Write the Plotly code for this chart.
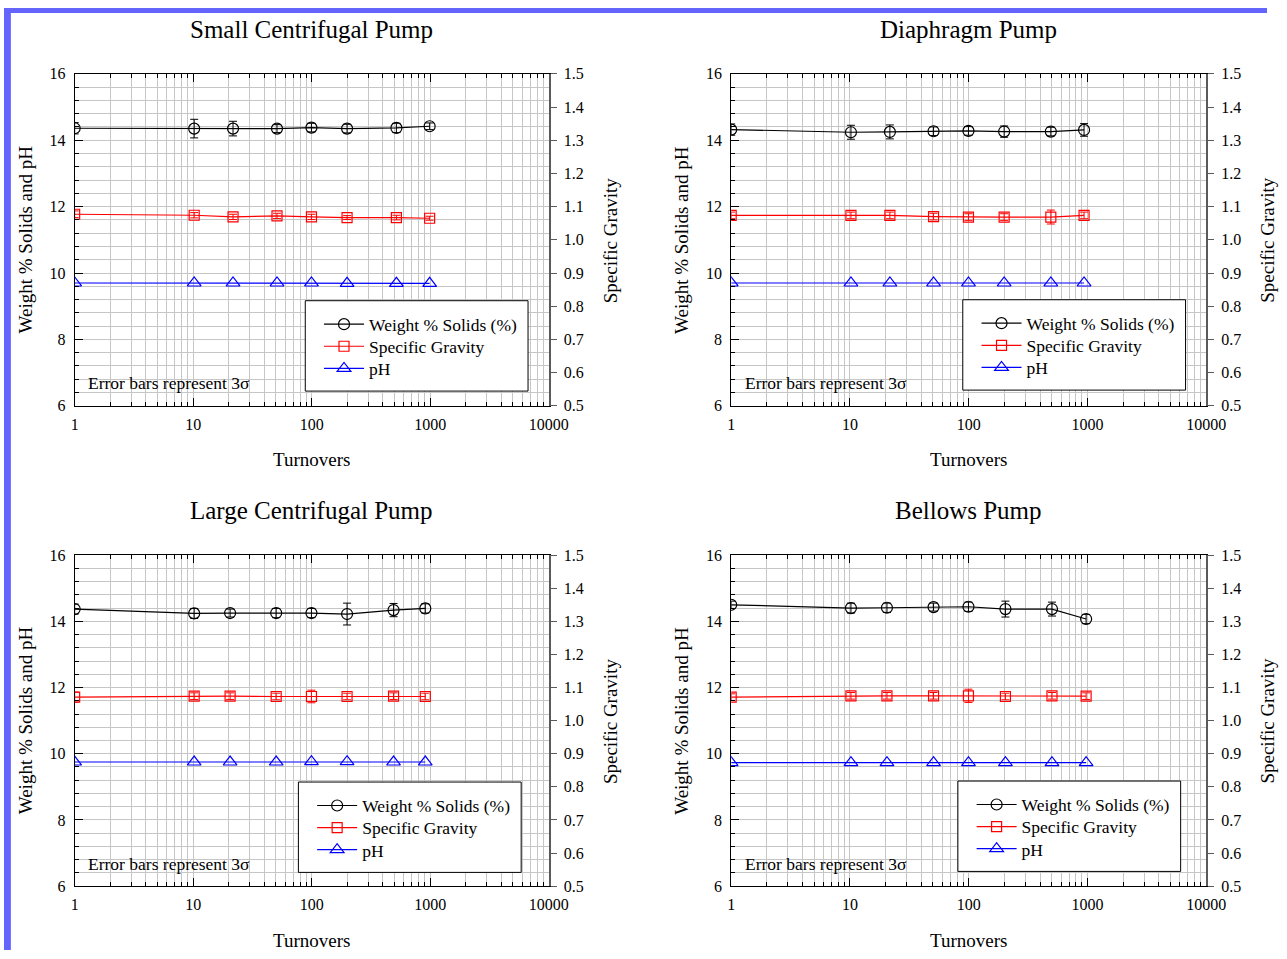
import plotly.graph_objects as go

W, H = 1287, 959
FONT = "Liberation Serif, Times New Roman, serif"
GRID = "#c6c6c6"

# ---- data: turnovers and measured properties for each pump ----
small_turnovers = [1, 10.2, 21.7, 51, 99.6, 199, 519, 990]
small_solids = [14.36, 14.35, 14.35, 14.35, 14.38, 14.35, 14.37, 14.42]
small_solids_err = [0.17, 0.28, 0.22, 0.12, 0.13, 0.13, 0.14, 0.10]
small_sg = [1.077, 1.074, 1.069, 1.072, 1.069, 1.067, 1.067, 1.065]
small_sg_err = [0.010, 0.008, 0.008, 0.008, 0.008, 0.006, 0.007, 0.006]
small_ph = [9.70, 9.70, 9.70, 9.70, 9.70, 9.69, 9.69, 9.69]

diaphragm_turnovers = [1, 10.2, 21.7, 50.6, 99.6, 199, 492, 937]
diaphragm_solids = [14.32, 14.24, 14.25, 14.27, 14.28, 14.26, 14.26, 14.31]
diaphragm_solids_err = [0.17, 0.21, 0.21, 0.13, 0.13, 0.17, 0.13, 0.19]
diaphragm_sg = [1.0735, 1.0735, 1.0735, 1.070, 1.0686, 1.0686, 1.0686, 1.0735]
diaphragm_sg_err = [0.010, 0.010, 0.010, 0.010, 0.010, 0.010, 0.021, 0.010]
diaphragm_ph = [9.70, 9.70, 9.70, 9.70, 9.70, 9.70, 9.70, 9.70]

large_turnovers = [1, 10.2, 20.5, 50.2, 99.6, 199, 491, 910]
large_solids = [14.37, 14.24, 14.25, 14.25, 14.25, 14.22, 14.34, 14.39]
large_solids_err = [0.15, 0.15, 0.12, 0.14, 0.14, 0.33, 0.20, 0.14]
large_sg = [1.071, 1.074, 1.074, 1.073, 1.073, 1.073, 1.074, 1.073]
large_sg_err = [0.015, 0.010, 0.010, 0.010, 0.019, 0.010, 0.010, 0.010]
large_ph = [9.75, 9.75, 9.75, 9.75, 9.76, 9.76, 9.75, 9.75]

bellows_turnovers = [1, 10.2, 20.5, 50.6, 99.6, 204, 503, 975]
bellows_solids = [14.50, 14.40, 14.41, 14.43, 14.44, 14.37, 14.37, 14.07]
bellows_solids_err = [0.11, 0.15, 0.14, 0.12, 0.14, 0.24, 0.21, 0.14]
bellows_sg = [1.071, 1.075, 1.075, 1.075, 1.075, 1.073, 1.075, 1.074]
bellows_sg_err = [0.010, 0.010, 0.010, 0.010, 0.020, 0.010, 0.010, 0.010]
bellows_ph = [9.73, 9.73, 9.73, 9.73, 9.73, 9.73, 9.73, 9.73]

pump_names = ["Small Centrifugal Pump", "Diaphragm Pump",
              "Large Centrifugal Pump", "Bellows Pump"]
series_names = ["Weight % Solids (%)", "Specific Gravity", "pH"]
x_ticks = [1, 10, 100, 1000, 10000]

panels = [
    (small_turnovers, small_solids, small_solids_err, small_sg, small_sg_err, small_ph),
    (diaphragm_turnovers, diaphragm_solids, diaphragm_solids_err, diaphragm_sg, diaphragm_sg_err, diaphragm_ph),
    (large_turnovers, large_solids, large_solids_err, large_sg, large_sg_err, large_ph),
    (bellows_turnovers, bellows_solids, bellows_solids_err, bellows_sg, bellows_sg_err, bellows_ph),
]

# plot-area boxes in pixels: (left, right, top, bottom)
boxes = [(72, 555, 67, 405), (741, 1225, 67, 405),
         (72, 555, 557, 894), (741, 1225, 557, 894)]
# legend frame offset from the plot-area corner (left, top)
legend_offsets = [(235, 231), (236, 230), (228, 231), (231, 230)]
ITEM_DY = [24, 46.5, 69]


def fx(p):
    return p / W


def fy(p):
    return 1 - p / H


fig = go.Figure()
layout = dict(
    width=W, height=H,
    margin=dict(l=0, r=0, t=0, b=0),
    paper_bgcolor="white", plot_bgcolor="white",
    font=dict(family=FONT, color="black", size=16),
    showlegend=True,
    annotations=[], shapes=[],
)

for i, (pump, (tx, solids, solids_err, sg, sg_err, ph)) in enumerate(zip(pump_names, panels)):
    left, right, top, bottom = boxes[i]
    xa, ya, ya2 = f"x{i + 1}", f"y{2 * i + 1}", f"y{2 * i + 2}"
    legs = [f"legend{3 * i + k + 1}" if 3 * i + k > 0 else "legend" for k in range(3)]

    fig.add_trace(go.Scatter(
        x=tx, y=solids, name=series_names[0], mode="lines+markers",
        error_y=dict(type="data", array=solids_err, color="black", thickness=1, width=4),
        line=dict(color="black", width=1.2),
        marker=dict(symbol="circle-open", size=11, color="black", line=dict(width=1.2)),
        xaxis=xa, yaxis=ya, legend=legs[0]))
    fig.add_trace(go.Scatter(
        x=tx, y=sg, name=series_names[1], mode="lines+markers",
        error_y=dict(type="data", array=sg_err, color="red", thickness=1, width=4),
        line=dict(color="red", width=1.2),
        marker=dict(symbol="square-open", size=10, color="red", line=dict(width=1.2)),
        xaxis=xa, yaxis=ya2, legend=legs[1]))
    fig.add_trace(go.Scatter(
        x=tx, y=ph, name=series_names[2], mode="lines+markers",
        line=dict(color="blue", width=1.2),
        marker=dict(symbol="triangle-up-open", size=12, color="blue", line=dict(width=1.2)),
        xaxis=xa, yaxis=ya, legend=legs[2]))

    xkey = "xaxis" if i == 0 else f"xaxis{i + 1}"
    ykey = f"yaxis{2 * i + 1}" if i > 0 else "yaxis"
    y2key = f"yaxis{2 * i + 2}"

    layout[xkey] = dict(
        type="log", range=[0, 4], domain=[fx(left), fx(right)], anchor=ya,
        tickmode="array", tickvals=x_ticks, ticktext=[str(v) for v in x_ticks],
        showline=True, linecolor="black", linewidth=1, mirror="ticks",
        ticks="inside", ticklen=8, tickcolor="black", ticklabelstandoff=4,
        showgrid=True, gridcolor=GRID, gridwidth=1, zeroline=False,
        minor=dict(dtick="D1", ticks="inside", ticklen=4, tickcolor="black",
                   showgrid=True, gridcolor=GRID, gridwidth=1),
        tickfont=dict(size=16, family=FONT),
    )
    layout[ykey] = dict(
        range=[6, 16], domain=[fy(bottom), fy(top)], anchor=xa,
        dtick=2, tick0=0, showline=True, linecolor="black", linewidth=1,
        ticks="inside", ticklen=8, tickcolor="black", ticklabelstandoff=5,
        showgrid=True, gridcolor=GRID, gridwidth=1, zeroline=False,
        minor=dict(dtick=0.4, tick0=0, ticks="inside", ticklen=4, tickcolor="black",
                   showgrid=True, gridcolor=GRID, gridwidth=1),
        tickfont=dict(size=16, family=FONT),
    )
    layout[y2key] = dict(
        range=[0.5, 1.5], overlaying=ya, side="right", anchor=xa,
        dtick=0.1, tick0=0, tickformat=".1f",
        showline=True, linecolor="#5a5a5a", linewidth=2,
        ticks="outside", ticklen=6, tickcolor="#5a5a5a", ticklabelstandoff=4,
        showgrid=False, zeroline=False,
        tickfont=dict(size=16, family=FONT),
    )

    cx = (left + right) / 2
    cy = (top + bottom) / 2
    ann = layout["annotations"]
    ann.append(dict(text=pump, x=fx(cx), y=fy(top - 45), xref="paper", yref="paper",
                    showarrow=False, xanchor="center", yanchor="middle",
                    font=dict(size=25, family=FONT)))
    ann.append(dict(text="Turnovers", x=fx(cx), y=fy(bottom + 55), xref="paper", yref="paper",
                    showarrow=False, xanchor="center", yanchor="middle",
                    font=dict(size=19, family=FONT)))
    ann.append(dict(text="Weight % Solids and pH", x=fx(left - 50), y=fy(cy), xref="paper",
                    yref="paper", showarrow=False, textangle=-90, xanchor="center",
                    yanchor="middle", font=dict(size=19, family=FONT)))
    ann.append(dict(text="Specific Gravity", x=fx(right + 63), y=fy(cy), xref="paper",
                    yref="paper", showarrow=False, textangle=-90, xanchor="center",
                    yanchor="middle", font=dict(size=19, family=FONT)))
    ann.append(dict(text="Error bars represent 3σ", x=fx(left + 12), y=fy(bottom - 23),
                    xref="paper", yref="paper", showarrow=False, xanchor="left",
                    yanchor="middle", font=dict(size=17.5, family=FONT)))

    # legend frame and one legend per entry
    ox, oy = legend_offsets[i]
    lx0, ly0 = left + ox, top + oy
    layout["shapes"].append(dict(type="rect", xref="paper", yref="paper",
                                 x0=fx(lx0), x1=fx(lx0 + 227), y0=fy(ly0 + 92), y1=fy(ly0),
                                 line=dict(color="black", width=1), fillcolor="white",
                                 layer="above"))
    for k, leg in enumerate(legs):
        layout[leg] = dict(x=fx(lx0 + 14), y=fy(ly0 + ITEM_DY[k]), xanchor="left",
                           yanchor="middle", bgcolor="rgba(0,0,0,0)", borderwidth=0,
                           font=dict(size=17.5, family=FONT), itemwidth=40)

# frame strips along the page edges
layout["shapes"].append(dict(type="rect", xref="paper", yref="paper", x0=0, x1=fx(7),
                             y0=0, y1=1, fillcolor="#6464ff", line=dict(width=0), layer="above"))
layout["shapes"].append(dict(type="rect", xref="paper", yref="paper", x0=0, x1=1,
                             y0=fy(5), y1=1, fillcolor="#6464ff", line=dict(width=0), layer="above"))

fig.update_layout(**layout)
fig.write_html("out.html")
